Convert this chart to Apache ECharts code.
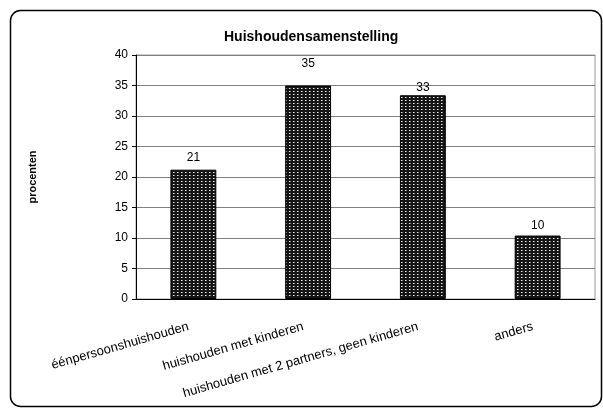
<!DOCTYPE html>
<html>
<head>
<meta charset="utf-8">
<script src="https://cdn.jsdelivr.net/npm/echarts@6/dist/echarts.min.js"></script>
<style>
    html, body { margin: 0; padding: 0; background: #fff; }
    #chart { width: 603px; height: 409px; }
</style>
</head>
<body>
<div id="chart"></div>
<script>
const categories = ['éénpersoonshuishouden', 'huishouden met kinderen', 'huishouden met 2 partners, geen kinderen', 'anders']
const values = [21.2, 35.0, 33.4, 10.4]
const yTicks = [0, 5, 10, 15, 20, 25, 30, 35, 40]

// label gap above each bar (Excel had them nudged by hand)
const labelGap = [6, 16, 2, 4]

// dotted fill like the old excel pattern
function makePattern() {
    const c = document.createElement('canvas')
    c.width = 4
    c.height = 3
    const ctx = c.getContext('2d')
    ctx.fillStyle = '#151515'
    ctx.fillRect(0, 0, 4, 3)
    ctx.fillStyle = '#e8e8e8'
    ctx.fillRect(1, 1, 1, 1)
    ctx.fillStyle = '#8a8a8a'
    ctx.fillRect(2, 1, 1, 1)
    return c
}

const font = 'Liberation Sans, Arial, sans-serif'
const chart = echarts.init(document.getElementById('chart'), null, { renderer: 'canvas' })

chart.setOption({
    animation: false,
    textStyle: { fontFamily: font },
    title: {
        text: 'Huishoudensamenstelling',
        left: 219,
        top: 25,
        textStyle: { fontSize: 14, fontWeight: 'bold', color: '#000', fontFamily: font },
    },
    grid: {
        left: 136,
        right: 8,
        top: 55,
        bottom: 110,
        show: true,
        borderColor: '#9a9a9a',
        borderWidth: 1,
    },
    xAxis: {
        type: 'category',
        data: categories,
        axisLine: { lineStyle: { color: '#000', width: 1 } },
        axisTick: { length: 4, lineStyle: { color: '#000' } },
        axisLabel: {
            interval: 0,
            rotate: 16,
            margin: 26,
            padding: [0, 5, 0, 0],
            color: '#000',
            fontSize: 13,
            fontFamily: font,
        },
    },
    yAxis: {
        type: 'value',
        min: yTicks[0],
        max: yTicks[yTicks.length - 1],
        interval: 5,
        name: 'procenten',
        nameLocation: 'middle',
        nameRotate: 90,
        nameGap: 98,
        nameTextStyle: { fontSize: 11, fontWeight: 'bold', color: '#000', fontFamily: font },
        axisLine: { show: true, lineStyle: { color: '#000', width: 1 } },
        axisTick: { show: true, length: 4, lineStyle: { color: '#000' } },
        axisLabel: { color: '#000', fontSize: 12, margin: 8, fontFamily: font },
        splitLine: { lineStyle: { color: '#808080', width: 1 } },
    },
    series: [{
        type: 'bar',
        barWidth: '40%',
        data: values.map((v, i) => ({
            value: v,
            label: { distance: labelGap[i] },
        })),
        itemStyle: {
            color: { image: makePattern(), repeat: 'repeat' },
            borderColor: '#000',
            borderWidth: 1,
        },
        label: {
            show: true,
            position: 'top',
            color: '#000',
            fontSize: 12,
            fontFamily: font,
            formatter: (p) => Math.round(p.value),
        },
    }],
    graphic: [{
        type: 'rect',
        shape: { x: 10.5, y: 10.5, width: 591, height: 396, r: 10 },
        style: { fill: 'none', stroke: '#000', lineWidth: 1.5 },
        silent: true,
    }],
})
</script>
</body>
</html>
